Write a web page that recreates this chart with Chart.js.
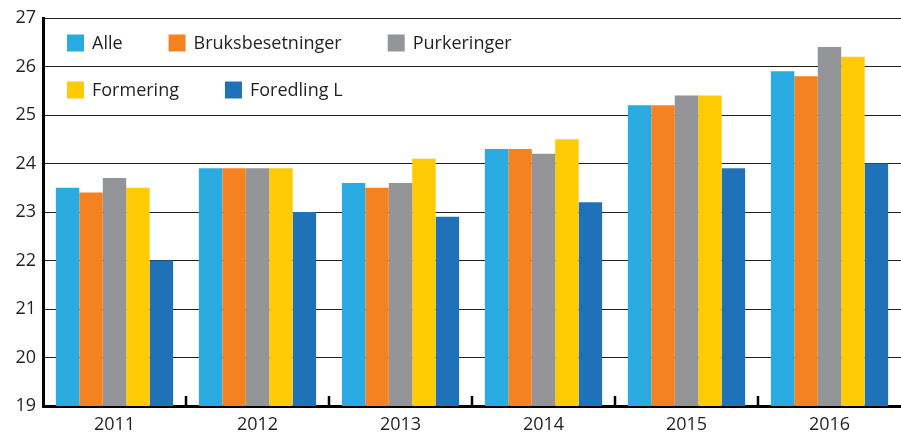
<!DOCTYPE html>
<html>
<head>
<meta charset="utf-8">
<script src="https://cdn.jsdelivr.net/npm/chart.js@4"></script>
<style>
  html, body { margin: 0; padding: 0; background: #fff; }
  #wrap { width: 901px; height: 432px; }
</style>
</head>
<body>
<div id="wrap"><canvas id="chart"></canvas></div>
<script>
const years = ['2011', '2012', '2013', '2014', '2015', '2016'];
const alle = [23.5, 23.9, 23.6, 24.3, 25.2, 25.9];
const bruksbesetninger = [23.4, 23.9, 23.5, 24.3, 25.2, 25.8];
const purkeringer = [23.7, 23.9, 23.6, 24.2, 25.4, 26.4];
const formering = [23.5, 23.9, 24.1, 24.5, 25.4, 26.2];
const foredlingL = [22.0, 23.0, 22.9, 23.2, 23.9, 24.0];
const yTicks = [19, 20, 21, 22, 23, 24, 25, 26, 27];

const FONT = '"Open Sans", "DejaVu Sans", sans-serif';

// legend drawn inside the plot area, wrapping to two rows
const insideLegend = {
  id: 'insideLegend',
  afterDraw(chart) {
    const { ctx, chartArea } = chart;
    const startX = chartArea.left + 24;
    let x = startX;
    let y = chartArea.top + 25;
    const box = 17;
    ctx.save();
    ctx.font = '18px ' + FONT;
    ctx.textBaseline = 'middle';
    chart.data.datasets.forEach((ds) => {
      const w = box + 8 + ctx.measureText(ds.label).width;
      if (x > startX && x + w - startX > 470) {
        x = startX;
        y += 47;
      }
      ctx.fillStyle = ds.backgroundColor;
      ctx.fillRect(x, y - box / 2, box, box);
      ctx.fillStyle = '#231f20';
      ctx.fillText(ds.label, x + box + 8, y + 1);
      x += w + 46;
    });
    ctx.restore();
  },
};

// small upward tick marks between year groups
const groupTicks = {
  id: 'groupTicks',
  afterDraw(chart) {
    const { ctx, chartArea } = chart;
    const xs = chart.scales.x;
    ctx.save();
    ctx.strokeStyle = '#000';
    ctx.lineWidth = 2.5;
    for (let i = 0; i < years.length - 1; i++) {
      const mid = (xs.getPixelForTick(i) + xs.getPixelForTick(i + 1)) / 2;
      ctx.beginPath();
      ctx.moveTo(mid, chartArea.bottom);
      ctx.lineTo(mid, chartArea.bottom - 10);
      ctx.stroke();
    }
    ctx.restore();
  },
};

const mk = (label, data, color) => ({
  label,
  data,
  backgroundColor: color,
  borderWidth: 0,
  barPercentage: 1,
  categoryPercentage: 0.82,
});

new Chart(document.getElementById('chart'), {
  type: 'bar',
  data: {
    labels: years,
    datasets: [
      mk('Alle', alle, '#29abe2'),
      mk('Bruksbesetninger', bruksbesetninger, '#f58220'),
      mk('Purkeringer', purkeringer, '#939598'),
      mk('Formering', formering, '#ffcb05'),
      mk('Foredling L', foredlingL, '#1f72b8'),
    ],
  },
  options: {
    responsive: true,
    maintainAspectRatio: false,
    animation: false,
    layout: { padding: { top: 18, right: 0, left: 0, bottom: 0 } },
    plugins: {
      legend: { display: false },
      tooltip: { enabled: false },
    },
    scales: {
      x: {
        grid: { display: false, drawTicks: false },
        border: { display: true, color: '#000', width: 3 },
        ticks: {
          color: '#231f20',
          font: { family: FONT, size: 18 },
          padding: 8,
        },
        afterFit: (s) => { s.height = 26; },
      },
      y: {
        min: 19,
        max: 27,
        afterBuildTicks: (s) => { s.ticks = yTicks.map((v) => ({ value: v })); },
        grid: { color: '#231f20', lineWidth: 1, drawTicks: false },
        border: { display: true, color: '#000', width: 3 },
        ticks: {
          color: '#231f20',
          font: { family: FONT, size: 18 },
          padding: 7,
        },
        afterFit: (s) => { s.width = 43; },
      },
    },
  },
  plugins: [insideLegend, groupTicks],
});
</script>
</body>
</html>
